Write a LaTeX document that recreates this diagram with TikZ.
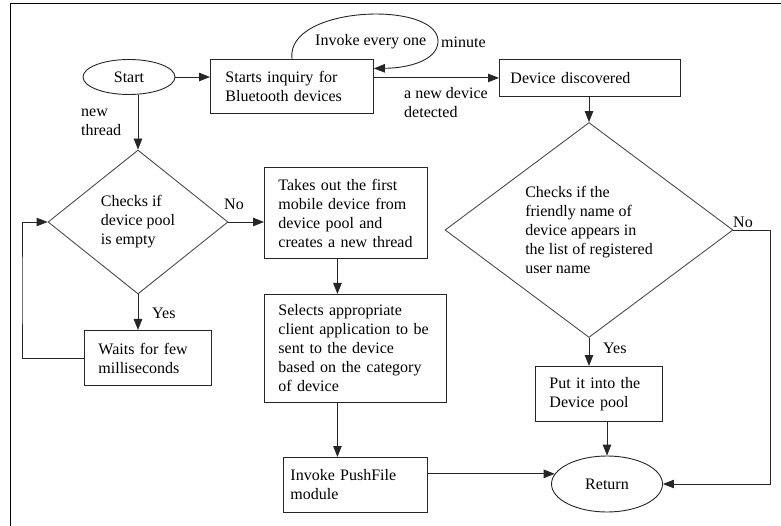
\documentclass[tikz,border=0pt]{standalone}
\usepackage{fontspec}
\setmainfont{Liberation Serif}
\usetikzlibrary{shapes.geometric,arrows.meta,calc}
\begin{document}
\begin{tikzpicture}[x=1pt,y=-1pt,
  every node/.style={font=\fontsize{16}{19}\selectfont},
  line/.style={draw=black!85, line width=0.9pt},
  arr/.style={line, -{Triangle[length=11pt,width=8.5pt]}},
  box/.style={draw=black!85, line width=0.9pt, rectangle, anchor=north west, align=left, inner ysep=0pt},
  dia/.style={draw=black!70, line width=0.9pt, diamond, inner sep=0pt, align=left},
  oval/.style={draw=black!85, line width=0.9pt, ellipse, inner sep=0pt},
  lbl/.style={inner sep=0pt, align=left, anchor=west}]
\useasboundingbox (0,0) rectangle (781,526);
\draw[line width=1.5pt, black] (10.5,526) -- (10.5,3.5) -- (781,3.5);

% nodes
\node[oval, minimum width=92pt, minimum height=35pt] (start) at (129,77) {Start};
\node[box, text width=133pt, inner xsep=15pt, minimum height=54pt] (inq) at (210,59) {Starts inquiry for\\Bluetooth devices};
\node[box, text width=159pt, inner xsep=11pt, minimum height=37pt] (dev) at (499,59) {Device discovered};
\node[dia, minimum width=180pt, minimum height=144pt] (dia1) at (138,222) {Checks if\\device pool\\is empty};
\node[box, text width=135pt, inner xsep=14pt, minimum height=91pt] (take) at (264,167) {Takes out the first\\mobile device from\\device pool and\\creates a new thread};
\node[box, text width=154pt, inner xsep=14pt, minimum height=108pt] (sel) at (264,294) {Selects appropriate\\client application to be\\sent to the device\\based on the category\\of device};
\node[box, text width=99pt, inner xsep=14pt, minimum height=55pt] (wait) at (84,330) {Waits for few\\milliseconds};
\node[box, text width=130pt, inner xsep=7pt, minimum height=55pt] (push) at (283,457) {Invoke PushFile\\module};
\node[dia, minimum width=288pt, minimum height=197pt] (dia2) at (589,230) {Checks if the\\friendly name of\\device appears in\\the list of registered\\user name};
\node[box, text width=99pt, inner xsep=14pt, minimum height=55pt] (put) at (535,366) {Put it into the\\Device pool};
\node[oval, minimum width=111pt, minimum height=56pt] (ret) at (607,484) {Return};

% labels
\node[lbl] (lnew) at (81,122) {new\\thread};
\node[lbl] (ldet) at (404,103) {a new device\\detected};
\node[lbl] (linv) at (315,42) {Invoke every one};
\node[lbl] (lmin) at (441,42) {minute};
\node[lbl] (lno1) at (224,204) {No};
\node[lbl] (lyes1) at (152,313) {Yes};
\node[lbl] (lno2) at (733,222) {No};
\node[lbl] (lyes2) at (603,348) {Yes};

% coordinates
\coordinate (noc) at (770,230);
\coordinate (lp) at (22,290);

% connectors
\draw[arr] (start.east) -- (start.east -| inq.west);
\draw[arr] ([xshift=82pt]inq.north west) .. controls (285,5) and (440,0) .. (438,42) .. controls (437,60) and (410,68) .. ([yshift=18pt]inq.east);
\draw[arr] (inq.east |- dev.west) -- (dev.west);
\draw[arr] (dev.south -| dia2.north) -- (dia2.north);
\draw[arr] (dia2.south) -- (dia2.south |- put.north);
\draw[arr] (put.south -| ret.north) -- (ret.north);
\draw[arr] (dia2.east) -- (noc) |- (ret.east);
\draw[arr] (ret.169 -| push.east) -- (ret.169);
\draw[arr] (dia1.north |- start.south) -- (dia1.north);
\draw[arr] (dia1.east) -- (dia1.east -| take.west);
\draw[arr] (dia1.south) -- (dia1.south |- wait.north);
\draw[arr] (wait.west) -| (lp) |- (dia1.west);
\draw[arr] ([xshift=-8.5pt]take.south) -- ([xshift=-8.5pt]take.south |- sel.north);
\draw[arr] ([xshift=-18pt]sel.south) -- ([xshift=-18pt]sel.south |- push.north);
\end{tikzpicture}
\end{document}
